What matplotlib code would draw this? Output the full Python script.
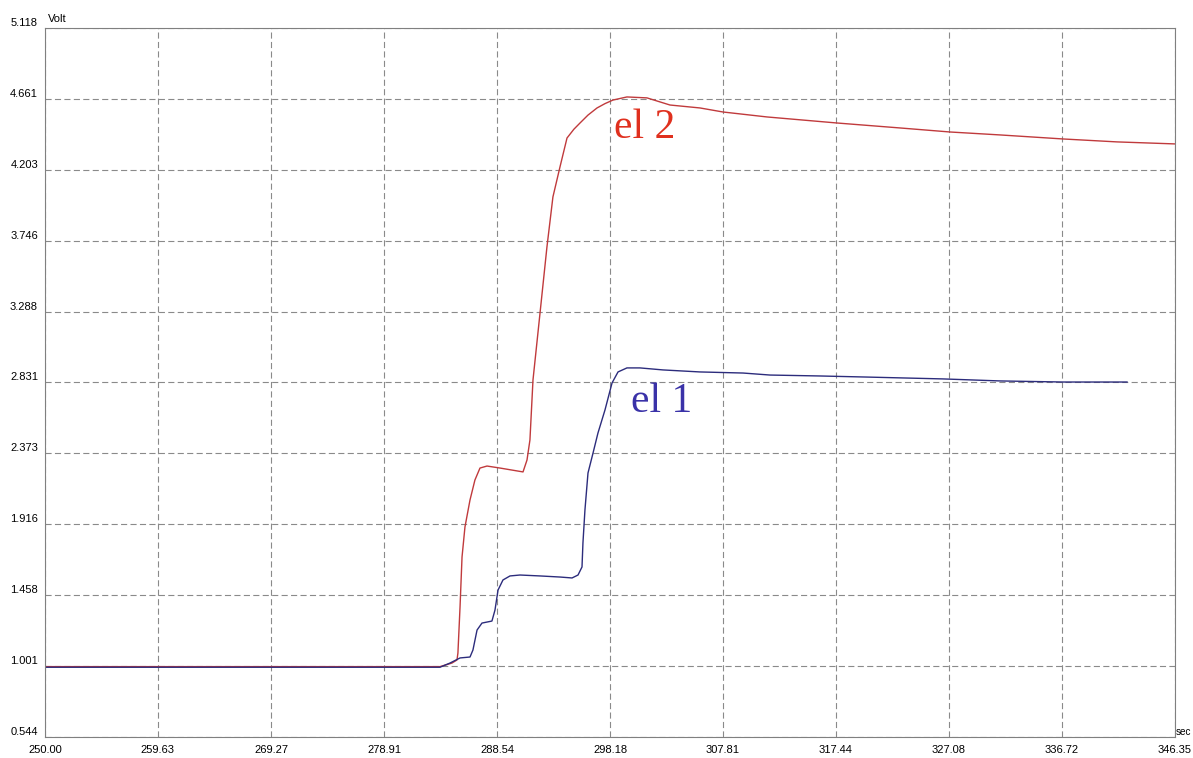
import matplotlib
matplotlib.use('Agg')
import matplotlib.pyplot as plt

# el 1 (blue)
t_el1 = [250.00, 283.68, 284.53, 285.39, 286.24, 286.49, 286.84, 287.26, 288.11,
         288.37, 288.63, 289.05, 289.65, 290.50, 292.21, 293.91, 294.94, 295.45,
         295.79, 295.87, 296.04, 296.30, 296.73, 297.15, 297.75, 298.35, 298.86,
         299.62, 300.73, 302.70, 305.85, 309.52, 311.82, 316.08, 320.09, 326.57,
         331.43, 336.80, 342.26]
v_el1 = [0.994, 0.994, 1.021, 1.054, 1.060, 1.105, 1.234, 1.279, 1.292,
         1.363, 1.492, 1.557, 1.583, 1.589, 1.583, 1.576, 1.570, 1.589,
         1.641, 1.796, 2.008, 2.247, 2.376, 2.505, 2.654, 2.828, 2.899,
         2.925, 2.925, 2.912, 2.899, 2.892, 2.879, 2.873, 2.866, 2.854,
         2.841, 2.834, 2.834]

# el 2 (red)
t_el2 = [250.00, 283.68, 284.70, 285.13, 285.21, 285.39, 285.56, 285.81, 286.24,
         286.66, 287.09, 287.69, 288.80, 290.76, 291.10, 291.35, 291.61, 292.21,
         292.80, 293.31, 293.91, 294.51, 295.10, 295.62, 296.30, 297.07, 297.75,
         298.43, 299.62, 301.33, 303.29, 305.85, 307.81, 311.56, 317.53, 322.90,
         327.16, 331.43, 336.80, 341.41, 346.35]
v_el2 = [0.998, 0.998, 1.021, 1.041, 1.086, 1.383, 1.705, 1.899, 2.073,
         2.202, 2.279, 2.292, 2.279, 2.254, 2.331, 2.460, 2.847, 3.279,
         3.705, 4.028, 4.221, 4.408, 4.465, 4.505, 4.556, 4.602, 4.630,
         4.653, 4.673, 4.667, 4.621, 4.602, 4.576, 4.544, 4.505, 4.473,
         4.447, 4.428, 4.402, 4.383, 4.370]

x_ticks = ['250.00', '259.63', '269.27', '278.91', '288.54', '298.18',
           '307.81', '317.44', '327.08', '336.72', '346.35']
y_ticks = ['0.544', '1.001', '1.458', '1.916', '2.373', '2.831',
           '3.288', '3.746', '4.203', '4.661', '5.118']

fig = plt.figure(figsize=(11.93, 7.58), dpi=100)
ax = fig.add_axes([0.0377, 0.0277, 0.9472, 0.9354])

ax.plot(t_el2, v_el2, color='#c03a3c', lw=1.0)
ax.plot(t_el1, v_el1, color='#2c2c7c', lw=1.0)

ax.set_xlim(250.00, 346.35)
ax.set_ylim(0.544, 5.118)

ax.set_xticks([float(s) for s in x_ticks])
ax.set_xticklabels(x_ticks, fontsize=8, family='Liberation Sans')
ax.set_yticks([float(s) for s in y_ticks])
ax.set_yticklabels(y_ticks, fontsize=8, family='Liberation Sans', va='bottom')
ax.tick_params(length=0, pad=5)
ax.tick_params(axis='x', pad=6)

ax.grid(True, color='#8a8a8a', lw=0.8, linestyle=(0, (5.5, 3)))
for s in ax.spines.values():
    s.set_color('#808080')
    s.set_linewidth(0.8)

ax.text(0.0025, 1.005, 'Volt', transform=ax.transAxes, fontsize=8,
        family='Liberation Sans', va='bottom', ha='left')
ax.text(1.0008, 0.0, 'sec', transform=ax.transAxes, fontsize=7.2,
        family='Liberation Sans', va='bottom', ha='left')

ax.text(301.16, 4.473, 'el 2', color='#e0301e', fontsize=30,
        family='Liberation Serif', ha='center', va='center')
ax.text(302.61, 2.705, 'el 1', color='#3a32a8', fontsize=30,
        family='Liberation Serif', ha='center', va='center')

fig.savefig('out.png', dpi=100)
